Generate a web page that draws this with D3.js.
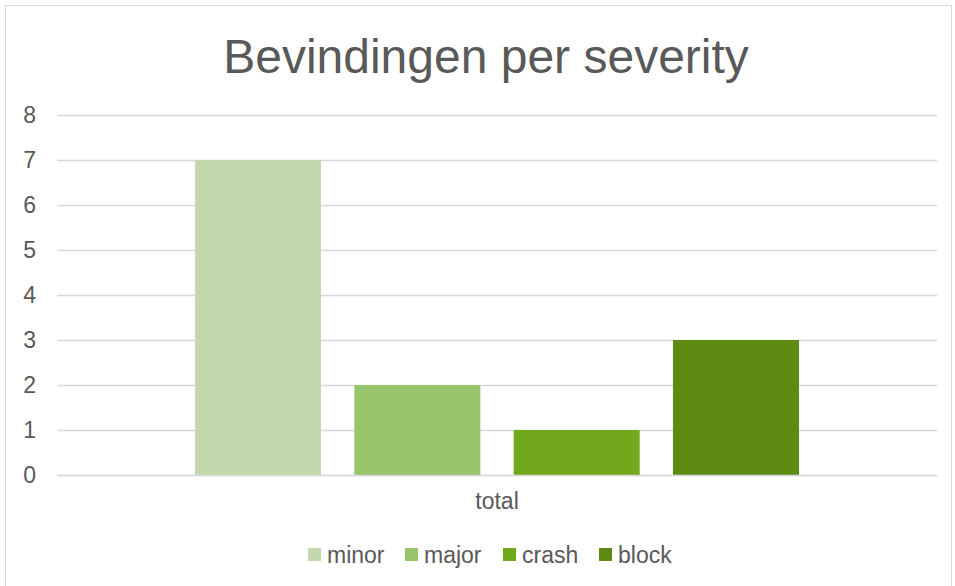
<!DOCTYPE html>
<html><head><meta charset="utf-8">
<script src="https://cdn.jsdelivr.net/npm/d3@7"></script>
<style>body{margin:0;background:#fff}svg{display:block}</style>
</head><body>
<script>
const categories = ["total"];
const seriesNames = ["minor", "major", "crash", "block"];
const seriesValues = [7, 2, 1, 3];
const seriesColors = ["#C3D8AF", "#98C46C", "#72A81C", "#5F8B15"];
const yTicks = [0, 1, 2, 3, 4, 5, 6, 7, 8];
const titleText = "Bevindingen per severity";

const W = 955, H = 586;
const m = {top: 115, right: 18, bottom: 111, left: 57};
const svg = d3.select("body").append("svg").attr("width", W).attr("height", H);
const font = "'Liberation Sans', Arial, sans-serif";
const txt = "#595959";

svg.append("rect").attr("x", 5.5).attr("y", 5.5).attr("width", W - 9).attr("height", H - 4)
  .attr("fill", "#fff").attr("stroke", "#D9D9D9").attr("stroke-width", 1);

const y = d3.scaleLinear().domain([0, 8]).range([H - m.bottom, m.top]);
const x0 = d3.scaleBand().domain(categories).range([m.left, W - m.right]).paddingInner(0).paddingOuter(0.2285);
const x1 = d3.scaleBand().domain(seriesNames).range([0, x0.bandwidth()]).paddingInner(0.209).paddingOuter(0);

// gridlines
const yAxis = d3.axisLeft(y).tickValues(yTicks).tickSize(-(W - m.left - m.right)).tickPadding(21);
const gy = svg.append("g").attr("transform", `translate(${m.left},0)`).call(yAxis);
gy.select(".domain").remove();
gy.selectAll(".tick line").attr("stroke", "#D9D9D9").attr("stroke-width", 1.5);
gy.selectAll(".tick text").attr("fill", txt).style("font-family", font).style("font-size", "23px");

// bars
const g = svg.append("g");
categories.forEach(cat => {
  g.selectAll("rect.bar").data(seriesNames).enter().append("rect")
    .attr("x", s => x0(cat) + x1(s))
    .attr("y", (s, i) => y(seriesValues[i]))
    .attr("width", x1.bandwidth())
    .attr("height", (s, i) => y(0) - y(seriesValues[i]))
    .attr("fill", (s, i) => seriesColors[i]);
});

// x axis labels
const xAxis = d3.axisBottom(x0).tickSize(0).tickPadding(18);
const gx = svg.append("g").attr("transform", `translate(0,${y(0)})`).call(xAxis);
gx.select(".domain").attr("stroke", "#D9D9D9").attr("stroke-width", 1.5);
gx.selectAll(".tick text").attr("fill", txt).style("font-family", font).style("font-size", "23px");

// title
svg.append("text").attr("x", 486).attr("y", 73).attr("text-anchor", "middle")
  .attr("fill", txt).style("font-family", font).style("font-size", "48px").text(titleText);

// legend
const legendX = [308, 405, 503, 599];
const lg = svg.append("g");
seriesNames.forEach((s, i) => {
  const item = lg.append("g").attr("transform", `translate(${legendX[i]},548)`);
  item.append("rect").attr("width", 13).attr("height", 13).attr("fill", seriesColors[i]);
  item.append("text").attr("x", 19).attr("y", 14.5).attr("fill", txt)
    .style("font-family", font).style("font-size", "23px").text(s);
});
</script>
</body></html>
